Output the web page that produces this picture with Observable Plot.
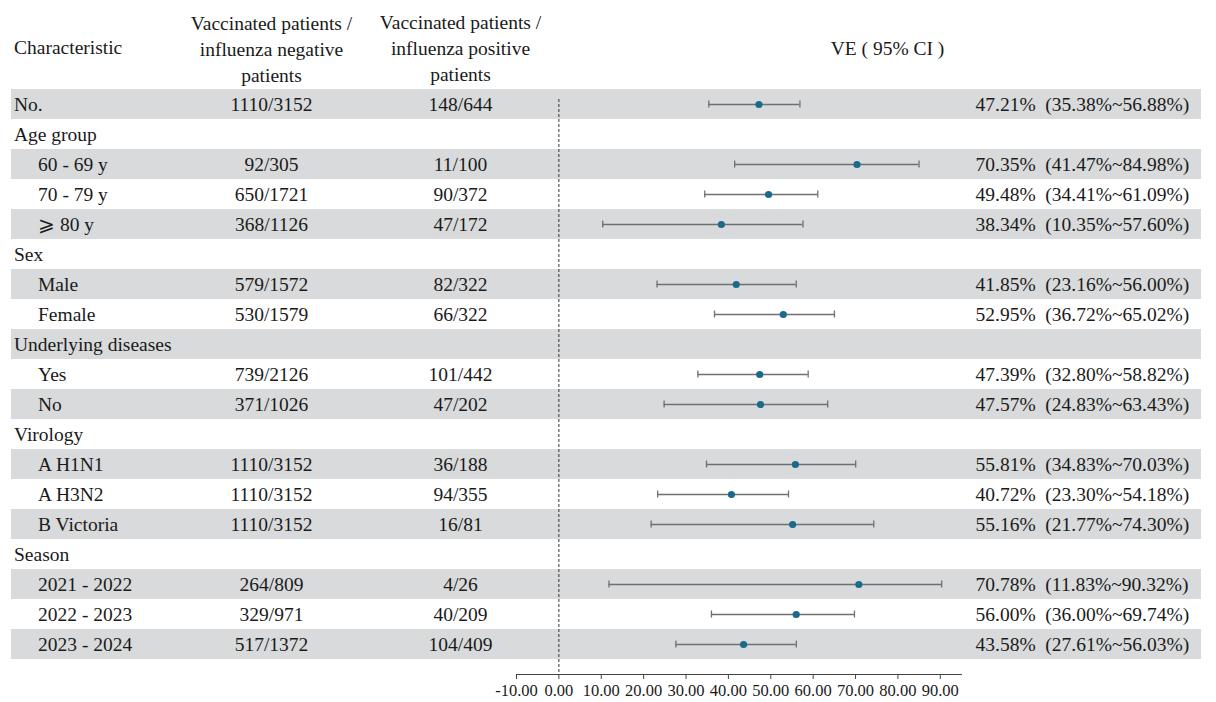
<!DOCTYPE html>
<html>
<head>
<meta charset="utf-8">
<script src="https://cdn.jsdelivr.net/npm/d3@7"></script>
<script src="https://cdn.jsdelivr.net/npm/@observablehq/plot@0.6"></script>
<style>
  html, body { margin: 0; padding: 0; background: #fff; }
  #chart svg { display: block; }
</style>
</head>
<body>
<div id="chart"></div>
<script>
// ---- data ----
const labels = ["No.", "Age group", "60 - 69 y", "70 - 79 y", "⩾ 80 y", "Sex", "Male", "Female",
  "Underlying diseases", "Yes", "No", "Virology", "A H1N1", "A H3N2", "B Victoria",
  "Season", "2021 - 2022", "2022 - 2023", "2023 - 2024"];
const indent = [0, 0, 1, 1, 1, 0, 1, 1, 0, 1, 1, 0, 1, 1, 1, 0, 1, 1, 1];
const negCol = ["1110/3152", "", "92/305", "650/1721", "368/1126", "", "579/1572", "530/1579",
  "", "739/2126", "371/1026", "", "1110/3152", "1110/3152", "1110/3152", "", "264/809", "329/971", "517/1372"];
const posCol = ["148/644", "", "11/100", "90/372", "47/172", "", "82/322", "66/322",
  "", "101/442", "47/202", "", "36/188", "94/355", "16/81", "", "4/26", "40/209", "104/409"];
const ve = [47.21, null, 70.35, 49.48, 38.34, null, 41.85, 52.95, null, 47.39, 47.57, null, 55.81, 40.72, 55.16, null, 70.78, 56.00, 43.58];
const lo = [35.38, null, 41.47, 34.41, 10.35, null, 23.16, 36.72, null, 32.80, 24.83, null, 34.83, 23.30, 21.77, null, 11.83, 36.00, 27.61];
const hi = [56.88, null, 84.98, 61.09, 57.60, null, 56.00, 65.02, null, 58.82, 63.43, null, 70.03, 54.18, 74.30, null, 90.32, 69.74, 56.03];
const xTicks = [-10, 0, 10, 20, 30, 40, 50, 60, 70, 80, 90];
const headCharacteristic = "Characteristic";
const headNeg = "Vaccinated patients /\ninfluenza negative\npatients";
const headPos = "Vaccinated patients /\ninfluenza positive\npatients";
const headVE = "VE ( 95% CI )";

// ---- table built from arrays ----
const rows = labels.map((label, i) => ({
  i, label, indent: indent[i], neg: negCol[i], pos: posCol[i],
  ve: ve[i], lo: lo[i], hi: hi[i],
  veText: ve[i] == null ? "" :
    `${ve[i].toFixed(2)}%\u00a0\u00a0(${lo[i].toFixed(2)}%~${hi[i].toFixed(2)}%)`
}));
const est = rows.filter(d => d.ve != null);
const shaded = rows.filter(d => d.i % 2 === 0);

// ---- layout ----
const W = 1216, H = 702;
const mL = 516, mR = 255, mT = 88, mB = 28;
const rowsBottom = 660;
const col = { charX: 13.5, subX: 37.5, negX: 271, posX: 460, veHeadX: 887, veX: 975, shadeL: 11, shadeR: 1201 };
const font = "'Liberation Serif', 'Times New Roman', serif";
const ink = "#1a1a1a";
const fmtTick = v => v.toFixed(2); // plain hyphen-minus, as in the reference

const chart = Plot.plot({
  width: W, height: H,
  marginLeft: mL, marginRight: mR, marginTop: mT, marginBottom: mB,
  style: { fontFamily: font, fontSize: "19.5px", color: ink, background: "#fff" },
  x: { domain: [-10, 95], nice: false },
  y: { type: "band", domain: d3.range(labels.length), range: [mT, rowsBottom], padding: 0, axis: null },
  marks: [
    // alternating row shading across the whole table
    Plot.cell(shaded, { y: "i", fill: "#d9dadb",
      insetLeft: -(mL - col.shadeL), insetRight: -(col.shadeR - (W - mR)) }),
    // reference line at 0
    Plot.ruleX([0], { stroke: "#333", strokeWidth: 1, strokeDasharray: "3,2", insetTop: 11 }),
    // axis
    Plot.frame({ anchor: "bottom", stroke: "#444" }),
    Plot.axisX({ ticks: xTicks, tickFormat: fmtTick, tickSize: 5, tickPadding: 5,
      fontSize: 16.5, label: null, stroke: "#444", fill: ink }),
    // confidence intervals
    Plot.ruleY(est, { y: "i", x1: "lo", x2: "hi", stroke: "#707070", strokeWidth: 1.3 }),
    Plot.tickX(est, { y: "i", x: "lo", stroke: "#707070", strokeWidth: 1.3, insetTop: 11.5, insetBottom: 11.5 }),
    Plot.tickX(est, { y: "i", x: "hi", stroke: "#707070", strokeWidth: 1.3, insetTop: 11.5, insetBottom: 11.5 }),
    Plot.dot(est, { y: "i", x: "ve", r: 3.6, fill: "#1b6a8c", stroke: "none" }),
    // table text
    Plot.text(rows.filter(d => !d.indent), { y: "i", text: "label", frameAnchor: "left",
      dx: col.charX - mL, textAnchor: "start", fill: ink }),
    Plot.text(rows.filter(d => d.indent), { y: "i", text: "label", frameAnchor: "left",
      dx: col.subX - mL, textAnchor: "start", fill: ink }),
    Plot.text(rows, { y: "i", text: "neg", frameAnchor: "left", dx: col.negX - mL, textAnchor: "middle", fill: ink }),
    Plot.text(rows, { y: "i", text: "pos", frameAnchor: "left", dx: col.posX - mL, textAnchor: "middle", fill: ink }),
    Plot.text(est, { y: "i", text: "veText", frameAnchor: "left", dx: col.veX - mL, textAnchor: "start", fill: ink }),
    // headers
    Plot.text([headCharacteristic], { frameAnchor: "top-left", dx: col.charX - mL, dy: 47 - mT,
      textAnchor: "start", lineAnchor: "middle", fill: ink }),
    Plot.text([headNeg], { frameAnchor: "top-left", dx: col.negX - mL, dy: 47 - mT,
      textAnchor: "middle", lineAnchor: "middle", lineHeight: 1.34, fill: ink }),
    Plot.text([headPos], { frameAnchor: "top-left", dx: col.posX - mL, dy: 46 - mT,
      textAnchor: "middle", lineAnchor: "middle", lineHeight: 1.34, fill: ink }),
    Plot.text([headVE], { frameAnchor: "top-left", dx: col.veHeadX - mL, dy: 48 - mT,
      textAnchor: "middle", lineAnchor: "middle", fill: ink })
  ]
});
document.getElementById("chart").append(chart);
</script>
</body>
</html>
